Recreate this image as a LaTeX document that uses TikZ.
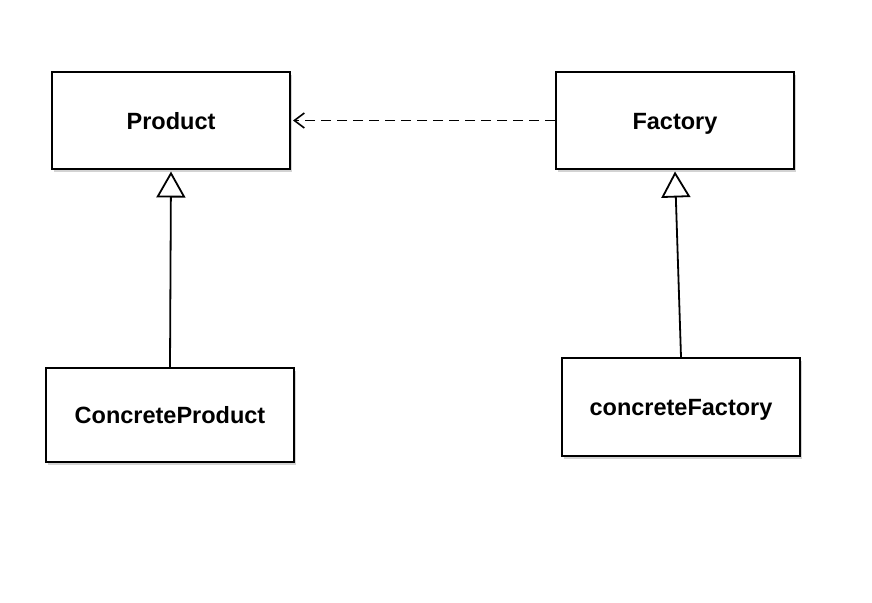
\documentclass[tikz,border=0pt]{standalone}
\usepackage{fontspec}
\setmainfont{Liberation Sans}
\usepackage{tikz}
\usetikzlibrary{arrows.meta,positioning,shadows}

\begin{document}
\begin{tikzpicture}[x=1pt,y=-1pt,
    cls/.style={draw,line width=2pt,fill=white,minimum height=97pt,
      minimum width=238pt,inner sep=0pt,text height=17pt,text depth=0pt,
      font=\fontsize{23.5}{28}\selectfont\bfseries,
      drop shadow={shadow xshift=1.5pt,shadow yshift=-2.5pt,opacity=0.35}},
    inherit/.style={line width=1.8pt,-{Triangle[open,length=26pt,width=29pt,line width=1.8pt]}},
    uses/.style={line width=1.8pt,dash pattern=on 10pt off 6pt,
      -{Straight Barb[length=10pt,width=15pt,line width=1.6pt]}}]
  \useasboundingbox (0,0) rectangle (872,602);
  \node[cls] (prod) at (171,120.5) {Product};
  \node[cls] (fact) at (675,120.5) {Factory};
  \node[cls,minimum width=248pt,minimum height=94pt] (cprod) at (170,415) {ConcreteProduct};
  \node[cls,minimum height=98pt] (cfact) at (681,407) {concreteFactory};
  \draw[inherit] (cprod.north) -- ([yshift=-1.5pt]prod.south);
  \draw[inherit] (cfact.north) -- ([yshift=-1.5pt]fact.south);
  \draw[uses] (fact.west) -- ([xshift=2pt]prod.east);
\end{tikzpicture}
\end{document}
